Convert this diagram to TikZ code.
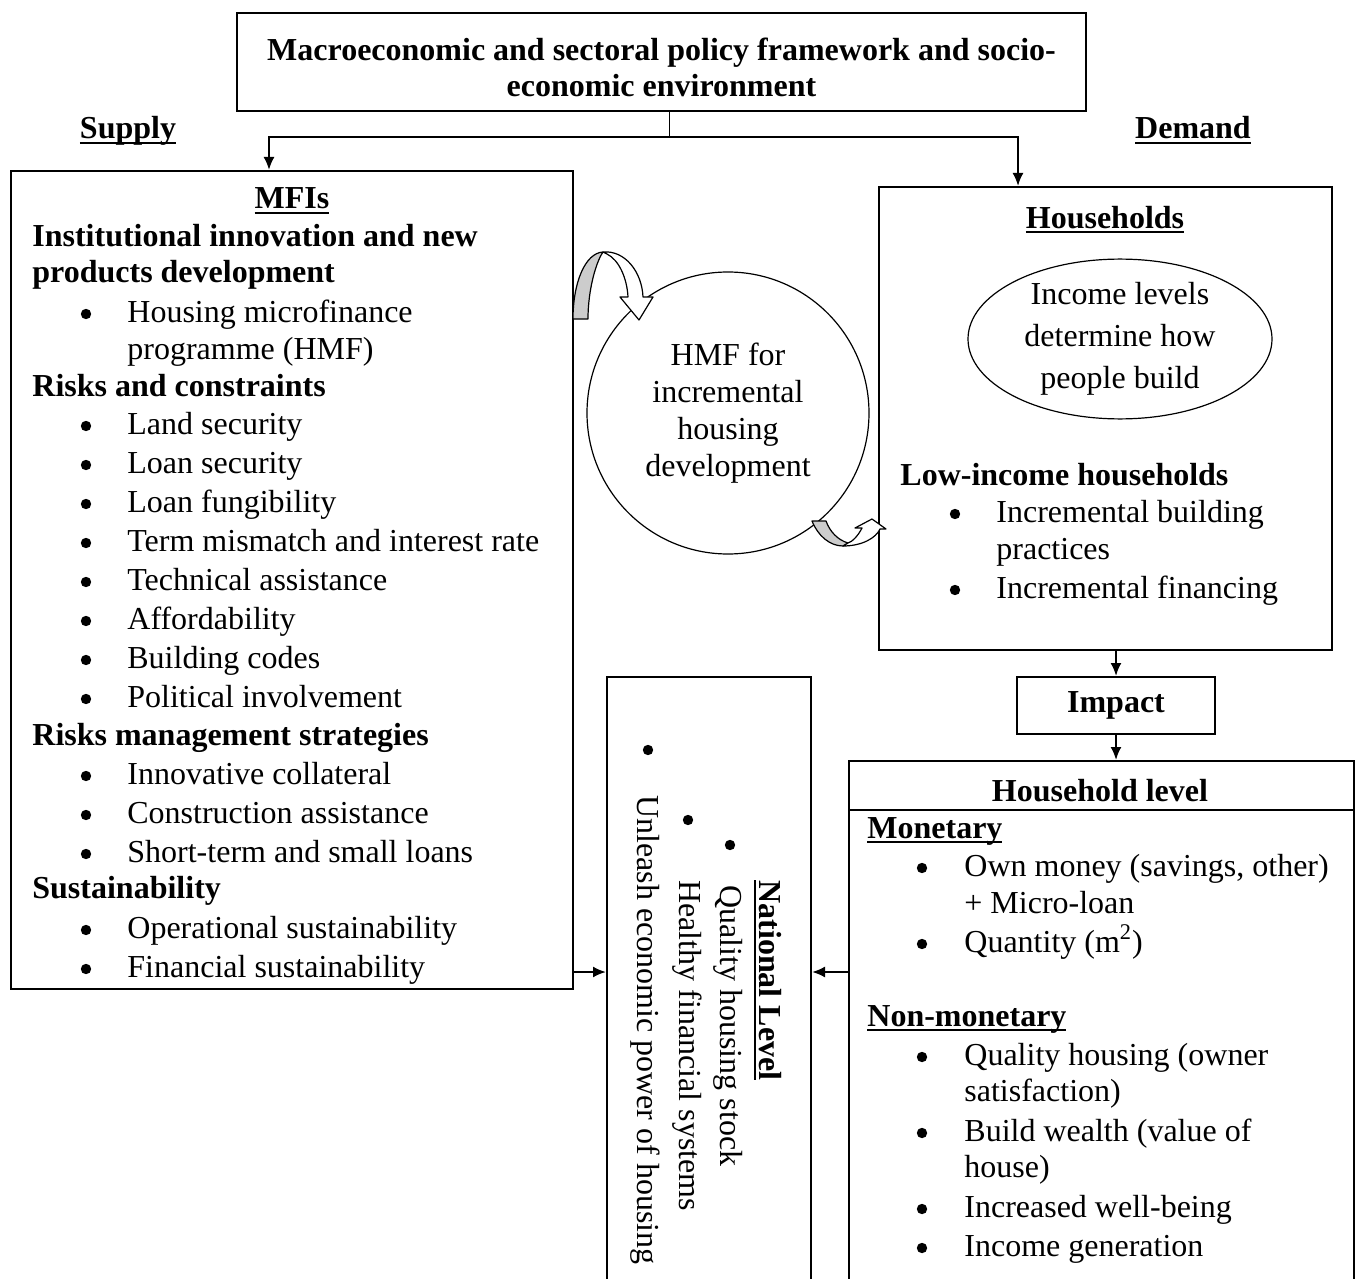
\documentclass[tikz,border=0pt]{standalone}
\usepackage{fontspec}
\setmainfont{Liberation Serif}
\usetikzlibrary{shapes.geometric,arrows.meta}

\newcommand\ulbox[1]{\setbox0=\hbox{#1}\rlap{\rule[-2.6pt]{\wd0}{1.3pt}}\box0}

\begin{document}
\begin{tikzpicture}[x=0.5pt,y=-0.5pt,font=\fontsize{16}{19}\selectfont]
    \tikzset{%
        >={Latex[length=6.5pt,width=5.5pt]}, % option for nice arrows
        box/.style={draw,line width=1pt,inner sep=0pt,anchor=north west},
        hd/.style={font=\fontsize{16}{19}\selectfont\bfseries,inner sep=0pt,anchor=base west},
        txt/.style={inner sep=0pt,anchor=base west},
        dot/.style={circle,fill,inner sep=0pt,minimum size=5.2pt},
        link/.style={line width=1pt,->},
        ribbon/.style={draw,line width=0.6pt,line join=round}%
    }
    \useasboundingbox (0,0) rectangle (1362,1279);
    \clip (0,0) rectangle (1362,1279);

    %% boxes

    \node[box,minimum width=424.5pt,minimum height=49pt] (top) at (236,12) {};
    \node[box,minimum width=281pt,minimum height=409pt] (mfi) at (10,170) {};
    \node[box,minimum width=226.5pt,minimum height=231.5pt] (hh) at (878,186) {};
    \node[box,minimum width=99pt,minimum height=28.5pt,font=\fontsize{16}{19}\selectfont\bfseries]
        (impact) at (1016,676) {Impact};
    \node[box,minimum width=252.5pt,minimum height=270pt] (hhl) at (848,760) {};
    \node[box,minimum width=102pt,minimum height=312pt] (nat) at (606,676) {};
    \node[draw,line width=0.6pt,circle,minimum size=141pt,inner sep=0pt,align=center,
        font=\fontsize{16}{18.5}\selectfont] (hmf) at (728,413)
        {HMF for\\incremental\\housing\\development};
    \node[draw,line width=0.6pt,ellipse,minimum width=152pt,minimum height=63pt,inner sep=0pt,
        align=center,font=\fontsize{16}{21}\selectfont] (inc) at (1120,339)
        {Income levels\\determine how\\people build};
    \draw[line width=0.6pt] ([yshift=-25pt]hhl.north west) -- ([yshift=-25pt]hhl.north east);

    %% top of the diagram

    \node[align=center,inner sep=0pt,font=\fontsize{16}{18}\selectfont\bfseries] (topt)
        at ([yshift=-2.5pt]top.center)
        {Macroeconomic and sectoral policy framework and socio-\\economic environment};
    \node[hd,anchor=base] (supply) at (128,139) {\ulbox{Supply}};
    \node[hd,anchor=base] (demand) at (1193,139) {\ulbox{Demand}};

    \coordinate (split) at (669,137);
    \coordinate (lt) at (269,137);
    \coordinate (rt) at (1018,137);
    \draw[line width=0.5pt] (top.south -| split) -- (split);
    \draw[link] (split) -- (lt) -- (lt |- mfi.north);
    \draw[link] (split) -- (rt) -- (rt |- hh.north);

    %% MFIs (supply side)

    \node[hd,anchor=base] (mfi-t) at (292,209) {\ulbox{MFIs}};
    \node[hd] (mfi-h1) at (32,247) {Institutional innovation and new};
    \node[hd] (mfi-h1b) at (32,283) {products development};
    \node[dot] (mfi-d0) at (86,314) {};
    \node[txt] (mfi-p0) at (127,322) {Housing microfinance};
    \node[txt] (mfi-p0b) at (127,359) {programme (HMF)};
    \node[hd] (mfi-h2) at (32,396) {Risks and constraints};
    \foreach \t [count=\i from 0] in {Land security,Loan security,Loan fungibility,
        Term mismatch and interest rate,Technical assistance,Affordability,
        Building codes,Political involvement}{
        \node[dot] (mfi-rd\i) at (86,426+39*\i) {};
        \node[txt] (mfi-r\i) at (127,434+39*\i) {\t};
    }
    \node[hd] (mfi-h3) at (32,745) {Risks management strategies};
    \foreach \t [count=\i from 0] in {Innovative collateral,Construction assistance,
        Short-term and small loans}{
        \node[dot] (mfi-md\i) at (86,776+39*\i) {};
        \node[txt] (mfi-m\i) at (127,784+39*\i) {\t};
    }
    \node[hd] (mfi-h4) at (32,898) {Sustainability};
    \foreach \t [count=\i from 0] in {Operational sustainability,Financial sustainability}{
        \node[dot] (mfi-sd\i) at (86,930+39*\i) {};
        \node[txt] (mfi-s\i) at (127,938+39*\i) {\t};
    }

    %% households (demand side)

    \node[hd,anchor=base] (hh-t) at (1105,228) {\ulbox{Households}};
    \node[hd] (hh-h) at (900,485) {Low-income households};
    \node[dot] (hh-d0) at (955,514) {};
    \node[txt] (hh-p0) at (996,522) {Incremental building};
    \node[txt] (hh-p0b) at (996,559) {practices};
    \node[dot] (hh-d1) at (955,590) {};
    \node[txt] (hh-p1) at (996,598) {Incremental financing};

    %% household level

    \node[hd,anchor=base] (hhl-t) at (1100,801) {Household level};
    \node[hd] (hhl-m) at (867,838) {\ulbox{Monetary}};
    \node[dot] (hhl-d0) at (922,868) {};
    \node[txt] (hhl-p0) at (964,876) {Own money (savings, other)};
    \node[txt] (hhl-p0b) at (964,913) {+ Micro-loan};
    \node[dot] (hhl-d1) at (922,944) {};
    \node[txt] (hhl-p1) at (964,952) {Quantity (m\textsuperscript{2})};
    \node[hd] (hhl-n) at (867,1026) {\ulbox{Non-monetary}};
    \node[dot] (hhl-d2) at (922,1057) {};
    \node[txt] (hhl-p2) at (964,1065) {Quality housing (owner};
    \node[txt] (hhl-p2b) at (964,1101) {satisfaction)};
    \node[dot] (hhl-d3) at (922,1133) {};
    \node[txt] (hhl-p3) at (964,1141) {Build wealth (value of};
    \node[txt] (hhl-p3b) at (964,1177) {house)};
    \node[dot] (hhl-d4) at (922,1209) {};
    \node[txt] (hhl-p4) at (964,1217) {Increased well-being};
    \node[dot] (hhl-d5) at (922,1248) {};
    \node[txt] (hhl-p5) at (964,1256) {Income generation};

    %% national level (text turned)

    \node[hd,rotate=-90] (nat-t) at (759,880) {\ulbox{National Level}};
    \node[txt,rotate=-90] (nat-p0) at (720,885) {Quality housing stock};
    \node[txt,rotate=-90] (nat-p1) at (679,880) {Healthy financial systems};
    \node[txt,rotate=-90] (nat-p2) at (637,795) {Unleash economic power of housing};
    \node[dot] (nat-d0) at (730,845) {};
    \node[dot] (nat-d1) at (688,820) {};
    \node[dot] (nat-d2) at (648,750) {};

    %% arrows to the impact and national level

    \coordinate (lv) at (0,972);
    \draw[link] (impact.north |- hh.south) -- (impact.north);
    \draw[link] (impact.south) -- (impact.south |- hhl.north);
    \draw[link] (mfi.east |- lv) -- (nat.west |- lv);
    \draw[link] (hhl.west |- lv) -- (nat.east |- lv);

    %% curved ribbon arrows

    \draw[ribbon,fill=black!20] (573,319) .. controls (573,283) and (585,253) .. (603,252)
        .. controls (596,262) and (588,290) .. (588,319) -- cycle;
    \draw[ribbon,fill=white] (603,252) .. controls (625,250) and (642,272) .. (643,297)
        -- (653,297) -- (639,320) -- (620,297) -- (628,297)
        .. controls (627,278) and (619,260) .. (607,254) -- cycle;
    \draw[ribbon,fill=black!20] (812,521) .. controls (818,536) and (830,546) .. (843,546)
        -- (848,543) .. controls (838,540) and (830,532) .. (826,521) -- cycle;
    \draw[ribbon,fill=white] (843,546) .. controls (862,546) and (876,538) .. (880,529)
        -- (886,529) -- (872,519) -- (855,528) -- (862,528)
        .. controls (858,536) and (852,542) .. (848,543) -- cycle;
\end{tikzpicture}
\end{document}
